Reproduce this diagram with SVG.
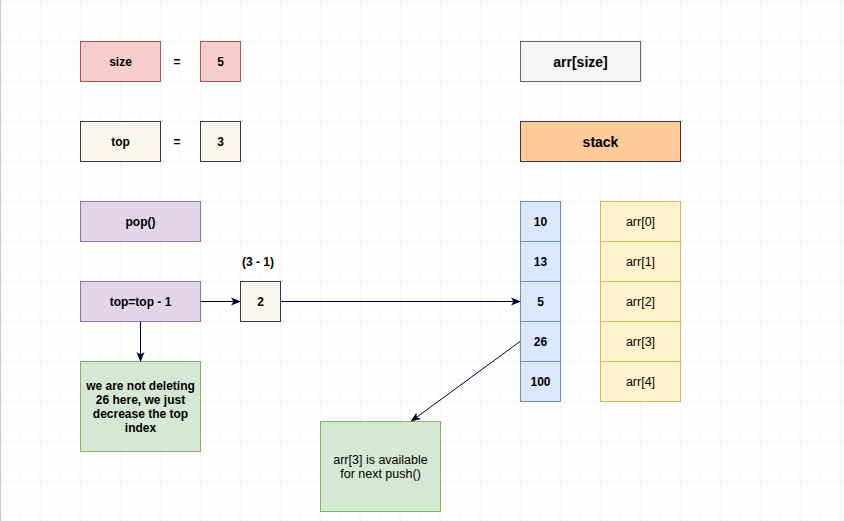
<svg xmlns="http://www.w3.org/2000/svg" width="844" height="521" viewBox="0 0 844 521">
<defs>
<pattern id="minor" width="10" height="10" patternUnits="userSpaceOnUse" x="0" y="1">
<path d="M10 0V10M0 10H10" fill="none" stroke="#f4f4f4" stroke-width="1"/>
</pattern>
<pattern id="major" width="40" height="40" patternUnits="userSpaceOnUse" x="0.5" y="1.5">
<path d="M0 0V40M0 0H40" fill="none" stroke="#e6e6e6" stroke-width="1"/>
</pattern>
<marker id="arr" viewBox="0 0 10 10" refX="9" refY="5" markerWidth="10" markerHeight="10" markerUnits="userSpaceOnUse" orient="auto">
<path d="M0 1 L10 5 L0 9 L2.5 5 Z" fill="#000033"/>
</marker>
<style>
text{font-family:"Liberation Sans",Arial,sans-serif;font-size:12.5px;fill:#000;text-anchor:middle;dominant-baseline:central}
.b{font-weight:bold;font-size:12px}
.big{font-size:14px;font-weight:bold}
.red{fill:#f8cecc;stroke:#b85450}
.beige{fill:#f9f7ed;stroke:#36393d}
.gray{fill:#f5f5f5;stroke:#666666}
.orange{fill:#ffcc99;stroke:#36393d}
.purple{fill:#e1d5e7;stroke:#9673a6}
.blue{fill:#dae8fc;stroke:#6c8ebf}
.yellow{fill:#fff2cc;stroke:#d6b656}
.green{fill:#d5e8d4;stroke:#82b366}
.edge{fill:none;stroke:#000033;stroke-width:1;marker-end:url(#arr)}
</style>
</defs>
<rect width="844" height="521" fill="#ffffff"/>
<rect width="844" height="521" fill="url(#minor)"/>
<rect width="844" height="521" fill="url(#major)"/>
<line x1="0.5" y1="0" x2="0.5" y2="521" stroke="#cccccc"/>

<g id="size"><rect class="red" x="80.5" y="41.5" width="80" height="40"/><text class="b" x="120.5" y="61.5">size</text></g>
<g id="eq1"><text class="b" x="177" y="61.5">=</text></g>
<g id="size-val"><rect class="red" x="200.5" y="41.5" width="40" height="40"/><text class="b" x="220.5" y="61.5">5</text></g>

<g id="top"><rect class="beige" x="80.5" y="121.5" width="80" height="40"/><text class="b" x="120.5" y="141.5">top</text></g>
<g id="eq2"><text class="b" x="177" y="141.5">=</text></g>
<g id="top-val"><rect class="beige" x="200.5" y="121.5" width="40" height="40"/><text class="b" x="220.5" y="141.5">3</text></g>

<g id="arrsize"><rect class="gray" x="520.5" y="41.5" width="120" height="40"/><text class="big" x="580.5" y="61.5">arr[size]</text></g>
<g id="stack"><rect class="orange" x="520.5" y="121.5" width="160" height="40"/><text class="big" x="600.5" y="141.5">stack</text></g>

<g id="pop"><rect class="purple" x="80.5" y="201.5" width="120" height="40"/><text class="b" x="140.5" y="221.5">pop()</text></g>
<g id="topminus"><rect class="purple" x="80.5" y="281.5" width="120" height="40"/><text class="b" x="140.5" y="301.5">top=top - 1</text></g>
<g id="calc"><text class="b" x="258" y="262">(3 - 1)</text></g>
<g id="two"><rect class="beige" x="240.5" y="281.5" width="40" height="40"/><text class="b" x="260.5" y="301.5">2</text></g>

<g id="cell0"><rect class="blue" x="520.5" y="201.5" width="40" height="40"/><text class="b" x="540.5" y="221.5">10</text></g>
<g id="cell1"><rect class="blue" x="520.5" y="241.5" width="40" height="40"/><text class="b" x="540.5" y="261.5">13</text></g>
<g id="cell2"><rect class="blue" x="520.5" y="281.5" width="40" height="40"/><text class="b" x="540.5" y="301.5">5</text></g>
<g id="cell3"><rect class="blue" x="520.5" y="321.5" width="40" height="40"/><text class="b" x="540.5" y="341.5">26</text></g>
<g id="cell4"><rect class="blue" x="520.5" y="361.5" width="40" height="40"/><text class="b" x="540.5" y="381.5">100</text></g>

<g id="idx0"><rect class="yellow" x="600.5" y="201.5" width="80" height="40"/><text x="640.5" y="221.5">arr[0]</text></g>
<g id="idx1"><rect class="yellow" x="600.5" y="241.5" width="80" height="40"/><text x="640.5" y="261.5">arr[1]</text></g>
<g id="idx2"><rect class="yellow" x="600.5" y="281.5" width="80" height="40"/><text x="640.5" y="301.5">arr[2]</text></g>
<g id="idx3"><rect class="yellow" x="600.5" y="321.5" width="80" height="40"/><text x="640.5" y="341.5">arr[3]</text></g>
<g id="idx4"><rect class="yellow" x="600.5" y="361.5" width="80" height="40"/><text x="640.5" y="381.5">arr[4]</text></g>

<g id="note1"><rect class="green" x="80.5" y="361.5" width="120" height="90"/>
<text class="b" x="140.5" y="385.5">we are not deleting</text>
<text class="b" x="140.5" y="399.5">26 here, we just</text>
<text class="b" x="140.5" y="413.5">decrease the top</text>
<text class="b" x="140.5" y="427.5">index</text></g>

<g id="note2"><rect class="green" x="320.5" y="421.5" width="120" height="90"/>
<text x="380.5" y="459.5">arr[3] is available</text>
<text x="380.5" y="473.5">for next push()</text></g>

<g id="connectors">
<path class="edge" d="M200.5 301.5H240"/>
<path class="edge" d="M280.5 301.5H520"/>
<path class="edge" d="M140.5 321.5V361"/>
<path class="edge" d="M520 341.5L411.5 421"/>
</g>
</svg>
